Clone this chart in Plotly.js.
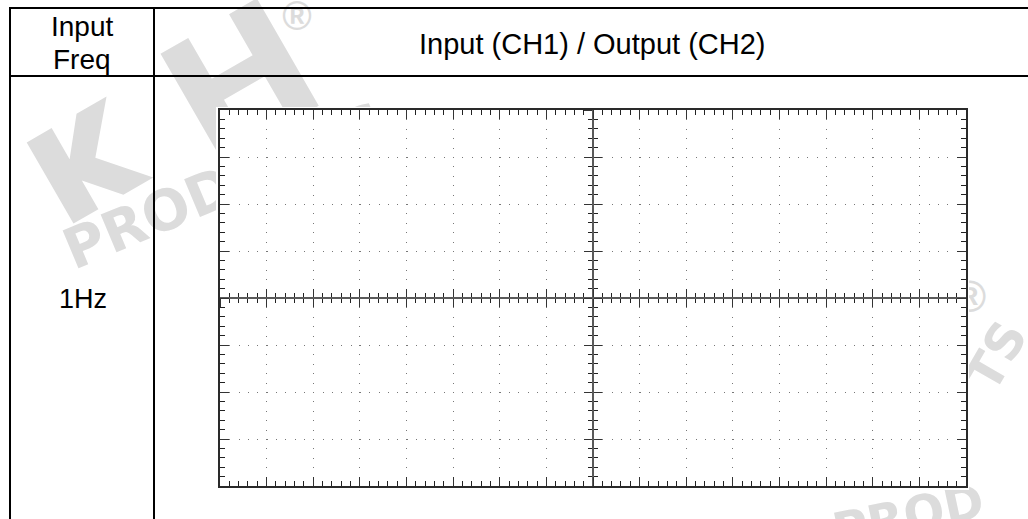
<!DOCTYPE html>
<html>
<head>
<meta charset="utf-8">
<script src="https://cdn.plot.ly/plotly-3.0.1.min.js"></script>
<style>
html,body{margin:0;padding:0;background:#fff;}
#chart{width:1028px;height:519px;}
</style>
</head>
<body>
<div id="chart"></div>
<script>
// ---- data ----
const headerFreq = ['Input', 'Freq'];
const headerSignal = 'Input (CH1) / Output (CH2)';
const freqLabels = ['1Hz'];
const ch1Time = [];   // no trace recorded on the scope screen
const ch1Volt = [];
const ch2Time = [];
const ch2Volt = [];
const timeRange = [-8, 8];   // 16 horizontal divisions
const voltRange = [-4, 4];   // 8 vertical divisions
const watermarkWords = ['H', 'PRODUCTS', '®', 'TS', 'PROD'];

// ---- layout geometry (pixels) ----
const W = 1028, H = 519;
const L = 220, R = 966, T = 110, B = 486;
const px = x => (x - L) / (R - L);
const py = y => (B - y) / (B - T);

const FONT = 'Liberation Sans, Arial, sans-serif';
const WMFONT = 'DejaVu Sans, Liberation Sans, sans-serif';
const WM = '#dcdcdc';

const traces = [
  {type: 'scatter', mode: 'lines', x: ch1Time, y: ch1Volt, name: 'CH1', xaxis: 'x', yaxis: 'y', showlegend: false, hoverinfo: 'skip'},
  {type: 'scatter', mode: 'lines', x: ch2Time, y: ch2Volt, name: 'CH2', xaxis: 'x', yaxis: 'y', showlegend: false, hoverinfo: 'skip'},
  {type: 'scatter', mode: 'lines', x: [], y: [], xaxis: 'x2', yaxis: 'y', showlegend: false, hoverinfo: 'skip'},
  {type: 'scatter', mode: 'lines', x: [], y: [], xaxis: 'x3', yaxis: 'y', showlegend: false, hoverinfo: 'skip'},
  {type: 'scatter', mode: 'lines', x: [], y: [], xaxis: 'x', yaxis: 'y2', showlegend: false, hoverinfo: 'skip'},
  {type: 'scatter', mode: 'lines', x: [], y: [], xaxis: 'x', yaxis: 'y3', showlegend: false, hoverinfo: 'skip'}
];

const borderAxis = {
  showline: true, linecolor: '#2a2a2a', linewidth: 2, mirror: 'ticks',
  ticks: 'inside', ticklen: 9, tickwidth: 1, tickcolor: '#333', dtick: 1, tick0: 0,
  minor: {ticks: 'inside', ticklen: 5, tickwidth: 1, tickcolor: '#222', dtick: 0.2, tick0: 0, showgrid: false},
  showgrid: true, gridcolor: '#777', gridwidth: 1,
  zeroline: false, showticklabels: false, fixedrange: true
};

const centerAxis = (ticks) => ({
  anchor: 'free', position: 0.5,
  showline: true, linecolor: '#5a5a5a', linewidth: 2,
  ticks: ticks, ticklen: 8, tickwidth: 1, tickcolor: '#333', dtick: 1, tick0: 0,
  minor: {ticks: ticks, ticklen: 4, tickwidth: 1, tickcolor: '#222', dtick: 0.2, tick0: 0, showgrid: false},
  showgrid: false, zeroline: false, showticklabels: false, fixedrange: true
});

const xUnit = (R - L) / 16 / 5;  // minor step px along horizontal
const yUnit = (B - T) / 8 / 5;   // minor step px along vertical

const shapes = [];
const wmLabel = (text, x0, y0, x1, y1, size, angle, family) => ({
  type: 'line', xref: 'paper', yref: 'paper', layer: 'below',
  x0: px(x0), y0: py(y0), x1: px(x1), y1: py(y1), line: {width: 0, color: 'rgba(0,0,0,0)'},
  label: {text: text, textangle: angle, textposition: 'middle', xanchor: 'center', yanchor: 'middle',
    font: {family: family || WMFONT, size: size, color: WM, weight: 'bold'}}
});
// blocky logo "K" outline, rotated and placed in pixel space, then mapped to paper
function logoK(cx, cy, scale, deg) {
  const pts = [[0,0],[40,0],[40,50],[80,0],[128,0],[72,66],[128,130],[80,130],[40,84],[40,130],[0,130]];
  const t = deg * Math.PI / 180, c = Math.cos(t), s = Math.sin(t);
  const d = pts.map(([x, y], i) => {
    const dx = (x - 64) * scale, dy = (y - 65) * scale;
    const X = cx + dx * c + dy * s, Y = cy - dx * s + dy * c;
    return (i ? 'L' : 'M') + px(X).toFixed(4) + ',' + py(Y).toFixed(4);
  }).join(' ') + ' Z';
  return {type: 'path', xref: 'paper', yref: 'paper', layer: 'below', path: d, fillcolor: WM, line: {width: 0}};
}
// watermark (behind the scope screen)
shapes.push(logoK(90, 160, 0.72, 30));
shapes.push(wmLabel(watermarkWords[0], 205, 72, 265, 72, 170, -30));
shapes.push(wmLabel(watermarkWords[1], 123, 224, 323, 140, 56, 'auto'));
shapes.push(wmLabel(watermarkWords[2], 280, 12, 314, 12, 40, 0, FONT));
shapes.push(wmLabel(watermarkWords[2], 952, 292, 988, 292, 44, 0, FONT));
shapes.push(wmLabel(watermarkWords[3], 980, 378, 1006, 330, 50, -60));
shapes.push(wmLabel(watermarkWords[4], 850, 525, 965, 500, 48, -12));
// white screen backing
shapes.push({type: 'rect', xref: 'paper', yref: 'paper', layer: 'below',
  x0: px(216), x1: px(969), y0: py(107), y1: py(490), fillcolor: '#fff', line: {width: 0}});
// white header cell for the frequency column
shapes.push({type: 'rect', xref: 'paper', yref: 'paper', layer: 'below',
  x0: px(10), x1: px(154), y0: py(8), y1: py(76), fillcolor: '#fff', line: {width: 0}});
// table rules
const rule = (x0, y0, x1, y1) => ({type: 'line', xref: 'paper', yref: 'paper', layer: 'above',
  x0: px(x0), y0: py(y0), x1: px(x1), y1: py(y1), line: {color: '#000', width: 2}});
shapes.push(rule(9, 8, 1030, 8));
shapes.push(rule(10, 76, 1030, 76));
shapes.push(rule(10, 7, 10, 530));
shapes.push(rule(154, 7, 154, 530));

const ann = (text, x, y, size) => ({xref: 'paper', yref: 'paper', x: px(x), y: py(y),
  xanchor: 'center', yanchor: 'middle', showarrow: false, text: text,
  font: {family: FONT, size: size, color: '#000'}});

const annotations = [
  ann(headerFreq[0], 82, 26, 28),
  ann(headerFreq[1], 82, 60, 28),
  ann(headerSignal, 592, 44, 29),
  ann(freqLabels[0], 83, 299, 27)
];

const layout = {
  width: W, height: H,
  margin: {l: L, r: W - R, t: T, b: H - B, pad: 0},
  paper_bgcolor: 'rgba(0,0,0,0)', plot_bgcolor: '#fff',
  showlegend: false,
  xaxis: Object.assign({}, borderAxis, {range: timeRange, griddash: '1px,' + (yUnit - 1).toFixed(3) + 'px'}),
  yaxis: Object.assign({}, borderAxis, {range: voltRange, griddash: '1px,' + (xUnit - 1).toFixed(3) + 'px'}),
  xaxis2: Object.assign({}, centerAxis('outside'), {overlaying: 'x', range: timeRange, side: 'bottom'}),
  xaxis3: Object.assign({}, centerAxis('inside'), {overlaying: 'x', range: timeRange, side: 'bottom'}),
  yaxis2: Object.assign({}, centerAxis('outside'), {overlaying: 'y', range: voltRange, side: 'left'}),
  yaxis3: Object.assign({}, centerAxis('inside'), {overlaying: 'y', range: voltRange, side: 'left'}),
  shapes: shapes,
  annotations: annotations
};

Plotly.newPlot('chart', traces, layout, {staticPlot: true, displayModeBar: false});
</script>
</body>
</html>
